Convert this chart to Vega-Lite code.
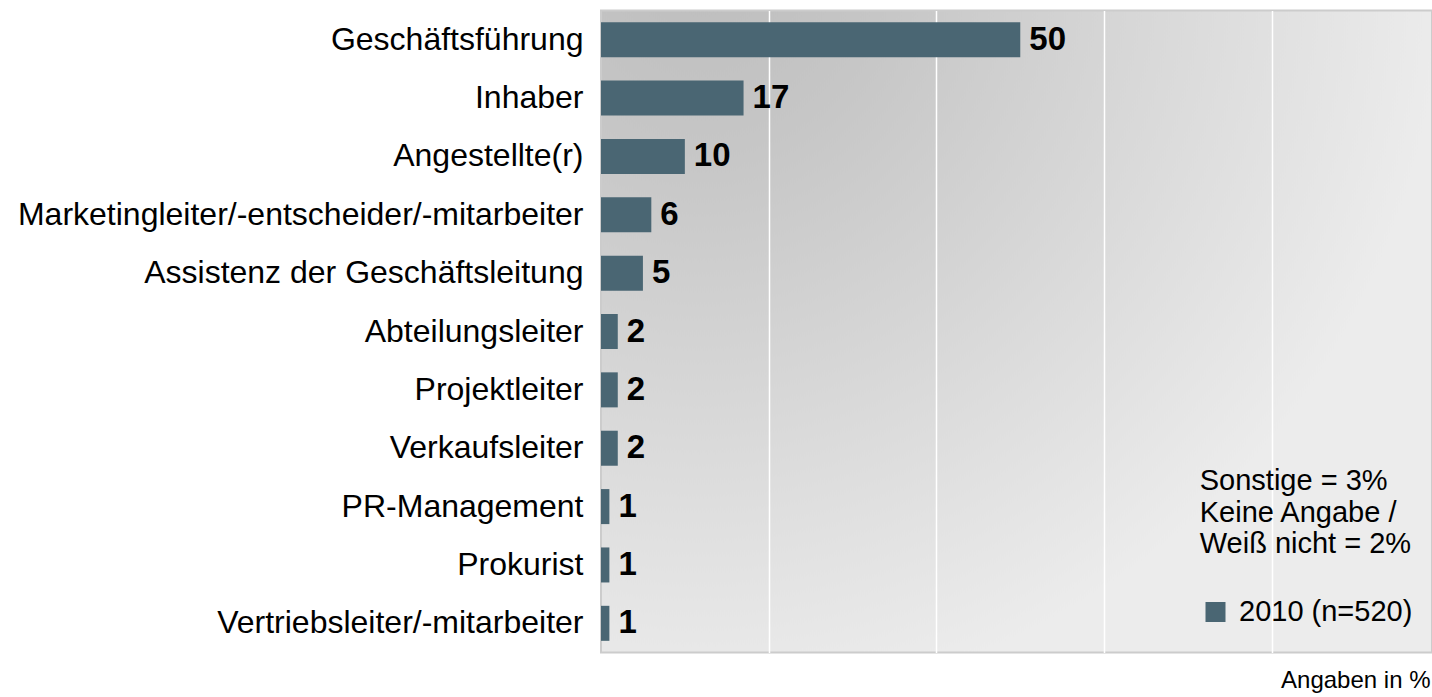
{
  "$schema": "https://vega.github.io/schema/vega-lite/v6.json",
  "width": 831,
  "height": 642,
  "autosize": {"type": "none"},
  "padding": {"left": 601, "top": 10.5, "right": 0, "bottom": 44.5},
  "background": "white",
  "data": {
    "values": [
      {"category": "Geschäftsführung", "value": 50, "series": "2010 (n=520)"},
      {"category": "Inhaber", "value": 17, "series": "2010 (n=520)"},
      {"category": "Angestellte(r)", "value": 10, "series": "2010 (n=520)"},
      {"category": "Marketingleiter/-entscheider/-mitarbeiter", "value": 6, "series": "2010 (n=520)"},
      {"category": "Assistenz der Geschäftsleitung", "value": 5, "series": "2010 (n=520)"},
      {"category": "Abteilungsleiter", "value": 2, "series": "2010 (n=520)"},
      {"category": "Projektleiter", "value": 2, "series": "2010 (n=520)"},
      {"category": "Verkaufsleiter", "value": 2, "series": "2010 (n=520)"},
      {"category": "PR-Management", "value": 1, "series": "2010 (n=520)"},
      {"category": "Prokurist", "value": 1, "series": "2010 (n=520)"},
      {"category": "Vertriebsleiter/-mitarbeiter", "value": 1, "series": "2010 (n=520)"}
    ]
  },
  "encoding": {
    "y": {
      "field": "category",
      "type": "nominal",
      "sort": null,
      "scale": {"paddingInner": 0.4, "paddingOuter": 0.2},
      "axis": {
        "title": null,
        "ticks": false,
        "domain": false,
        "labelFontSize": 32,
        "labelFont": "Liberation Sans",
        "labelColor": "#000000",
        "labelPadding": 18,
        "labelLimit": 700
      }
    },
    "x": {
      "field": "value",
      "type": "quantitative",
      "scale": {"domain": [0, 99.1], "nice": false, "zero": true},
      "axis": {
        "values": [20, 40, 60, 80],
        "labels": false,
        "ticks": false,
        "domain": false,
        "grid": true,
        "gridColor": "#ffffff",
        "gridWidth": 1.5,
        "title": "Angaben in %",
        "titleAnchor": "end",
        "titleAlign": "right",
        "titleBaseline": "alphabetic",
        "titlePadding": 35,
        "titleFontSize": 24,
        "titleFontWeight": "normal",
        "titleFont": "Liberation Sans",
        "titleColor": "#000000",
        "titleX": 829
      }
    }
  },
  "layer": [
    {
      "mark": {"type": "bar"},
      "encoding": {
        "color": {
          "field": "series",
          "type": "nominal",
          "scale": {"range": ["#4a6673"]},
          "legend": {
            "title": null,
            "orient": "none",
            "legendX": 600,
            "legendY": 587,
            "padding": 0,
            "symbolType": "square",
            "symbolSize": 400,
            "symbolStrokeWidth": 0,
            "symbolOpacity": 1,
            "labelFontSize": 29,
            "labelFont": "Liberation Sans",
            "labelColor": "#000000",
            "labelOffset": 9,
            "labelLimit": 400
          }
        }
      }
    },
    {
      "mark": {
        "type": "text",
        "align": "left",
        "baseline": "middle",
        "dx": 9,
        "fontSize": 33,
        "fontWeight": "bold",
        "font": "Liberation Sans",
        "color": "#000000"
      },
      "encoding": {"text": {"field": "value", "type": "quantitative"}}
    },
    {
      "data": {"values": [{"note": ["Sonstige = 3%", "Keine Angabe /", "Weiß nicht = 2%"], "xpos": 71.4, "row": "Verkaufsleiter"}]},
      "mark": {
        "type": "text",
        "align": "left",
        "baseline": "top",
        "dy": 19,
        "fontSize": 29,
        "lineHeight": 31.5,
        "font": "Liberation Sans",
        "color": "#000000"
      },
      "encoding": {
        "x": {"field": "xpos", "type": "quantitative"},
        "y": {"field": "row", "type": "nominal"},
        "text": {"field": "note"}
      }
    }
  ],
  "config": {
    "view": {
      "fill": {
        "gradient": "radial",
        "x1": 0.12, "y1": 0.06, "r1": 0,
        "x2": 0.12, "y2": 0.06, "r2": 0.9,
        "stops": [
          {"offset": 0, "color": "#bdbdbd"},
          {"offset": 0.25, "color": "#c6c6c6"},
          {"offset": 1, "color": "#ececec"}
        ]
      },
      "stroke": "#cccccc",
      "strokeWidth": 2
    }
  }
}
